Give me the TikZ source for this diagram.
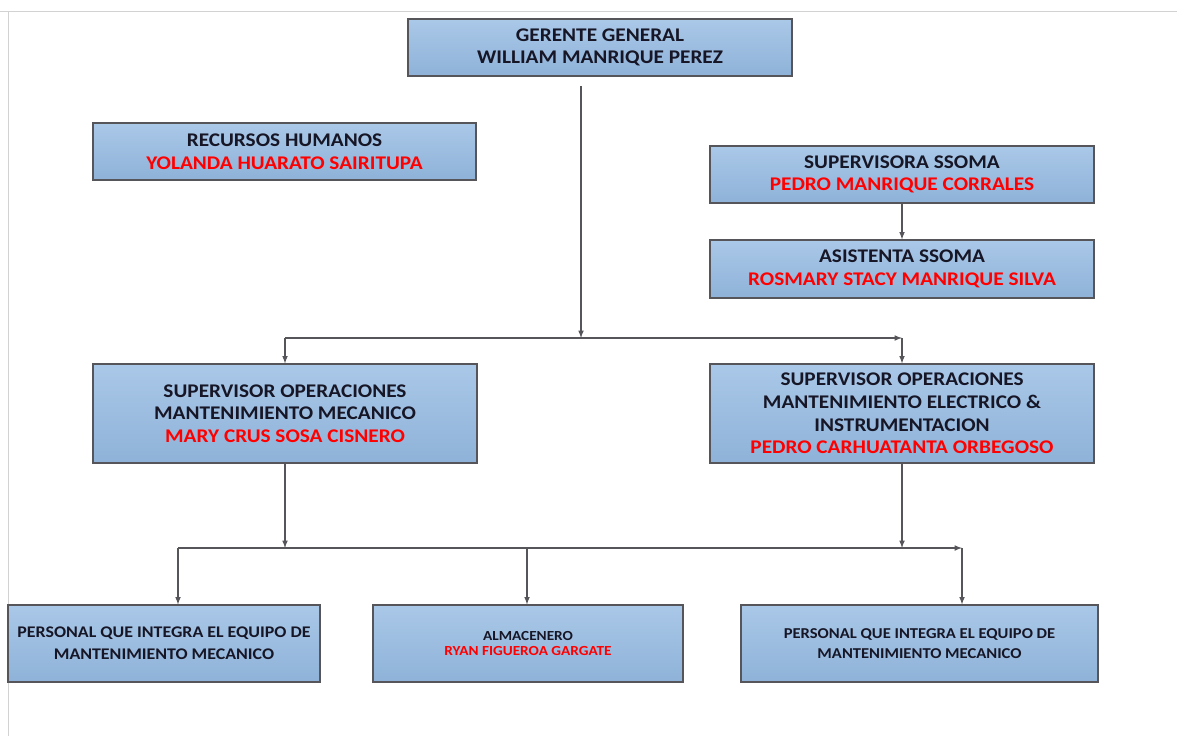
\documentclass[tikz,border=0pt]{standalone}
\usepackage{fontspec}
\setmainfont[FakeStretch=1.1]{Carlito}
\definecolor{boxtop}{RGB}{170,200,232}
\definecolor{boxbot}{RGB}{142,178,216}
\definecolor{boxline}{RGB}{85,85,90}
\definecolor{inktext}{RGB}{22,22,38}
\definecolor{redname}{RGB}{255,0,0}
\begin{document}
\begin{tikzpicture}[x=0.75pt, y=-0.75pt, >=latex,
  every node/.style={font=\bfseries\fontsize{14.5}{17}\selectfont, text=inktext},
  box/.style={draw=boxline, line width=0.9pt, top color=boxtop, bottom color=boxbot,
    align=center, inner sep=0pt},
  link/.style={->, draw=boxline, line width=0.9pt}]
  \useasboundingbox (0,0) rectangle (1177,736);
  \draw[gray!35, line width=0.6pt] (0,11) -- (1177,11) (8,11) -- (8,736);

  % top level
  \node[box, minimum width=384*0.75pt, minimum height=57*0.75pt] (gerente) at (600,47.5)
  {GERENTE GENERAL\\ WILLIAM MANRIQUE PEREZ};

  \node[box, minimum width=383*0.75pt, minimum height=57*0.75pt] (rrhh) at (284.5,151.5)
  {RECURSOS HUMANOS\\ \textcolor{redname}{YOLANDA HUARATO SAIRITUPA}};

  \node[box, minimum width=384*0.75pt, minimum height=57*0.75pt] (ssoma) at (902,174.5)
  {SUPERVISORA SSOMA\\ \textcolor{redname}{PEDRO MANRIQUE CORRALES}};

  \node[box, minimum width=384*0.75pt, minimum height=58*0.75pt] (asistenta) at (902,269)
  {ASISTENTA SSOMA\\ \textcolor{redname}{ROSMARY STACY MANRIQUE SILVA}};

  % supervisors
  \node[box, minimum width=384*0.75pt, minimum height=99*0.75pt] (supmec) at (285,413.5)
  {SUPERVISOR OPERACIONES\\ MANTENIMIENTO MECANICO\\ \textcolor{redname}{MARY CRUS SOSA CISNERO}};

  \node[box, minimum width=384*0.75pt, minimum height=99*0.75pt] (supelec) at (902,413.5)
  {SUPERVISOR OPERACIONES\\ MANTENIMIENTO ELECTRICO \&\\ INSTRUMENTACION\\
  \textcolor{redname}{PEDRO CARHUATANTA ORBEGOSO}};

  % staff
  \node[box, minimum width=312*0.75pt, minimum height=77*0.75pt,
    font=\bfseries\fontsize{12.2}{16.5}\selectfont] (persmec) at (164,643.5)
  {PERSONAL QUE INTEGRA EL EQUIPO DE\\ MANTENIMIENTO MECANICO};

  \node[box, minimum width=310*0.75pt, minimum height=77*0.75pt,
    font=\bfseries\fontsize{10.4}{11.5}\selectfont] (almacen) at (528,643.5)
  {ALMACENERO\\ \textcolor{redname}{RYAN FIGUEROA GARGATE}};

  \node[box, minimum width=357*0.75pt, minimum height=77*0.75pt,
    font=\bfseries\fontsize{11.3}{14.5}\selectfont] (perselec) at (919.5,643.5)
  {PERSONAL QUE INTEGRA EL EQUIPO DE\\ MANTENIMIENTO MECANICO};

  \coordinate (bus1) at (581,338);
  \coordinate (bus2) at (285,548);
  \coordinate (dropa) at (178,548);
  \coordinate (dropb) at (527,548);
  \coordinate (dropc) at (962,548);

  \draw[link, shorten <=7pt] (gerente.south -| bus1) -- (bus1);
  \draw[link] (supmec.north |- bus1) -- (supelec.north |- bus1);
  \draw[link] (supmec.north |- bus1) -- (supmec.north);
  \draw[link] (supelec.north |- bus1) -- (supelec.north);
  \draw[link] (ssoma.south) -- (asistenta.north);

  \draw[link] (supmec.south) -- (bus2);
  \draw[link] (supelec.south) -- (supelec.south |- bus2);
  \draw[link] (dropa) -- (dropc);
  \draw[link] (dropa) -- (dropa |- persmec.north);
  \draw[link] (dropb) -- (dropb |- almacen.north);
  \draw[link] (dropc) -- (dropc |- perselec.north);
\end{tikzpicture}
\end{document}
